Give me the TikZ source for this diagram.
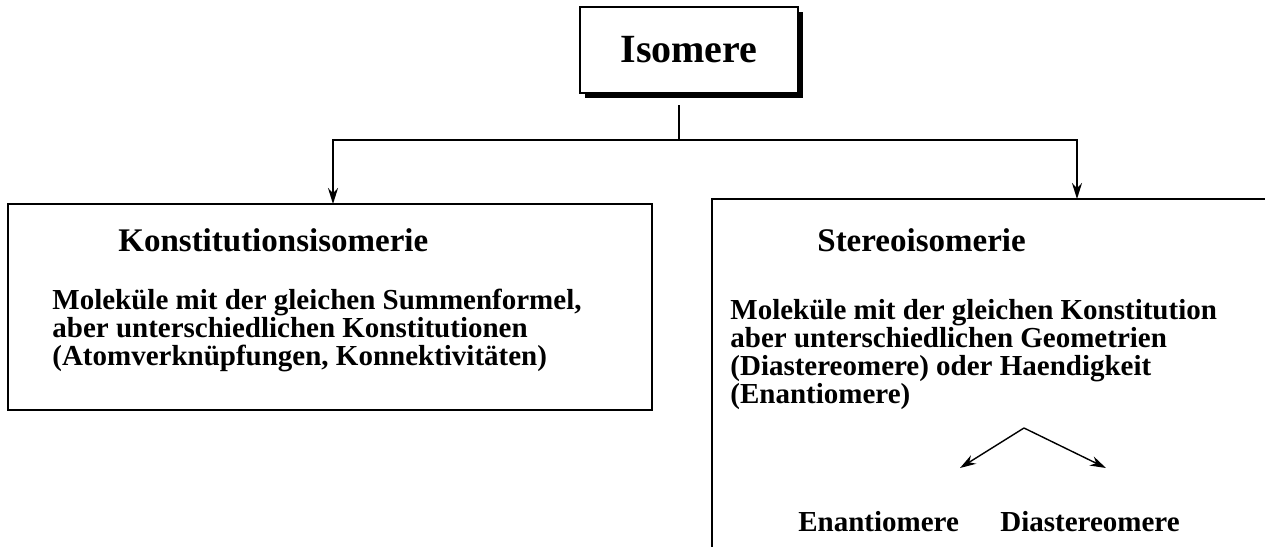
\documentclass[tikz,border=0pt]{standalone}
\usepackage{fontspec}
\setmainfont{Liberation Serif}
\usetikzlibrary{shadows,arrows.meta}

\tikzset{
  conn/.style={line width=0.9pt},
  arr/.style={conn,-{Stealth[length=8pt,width=5pt]}},
  title/.style={font=\bfseries\fontsize{16.5}{18}\selectfont,anchor=base west,inner sep=0pt},
  body/.style={font=\bfseries\fontsize{14.5}{14}\selectfont,anchor=north west,inner sep=0pt,align=left},
  label/.style={font=\bfseries\fontsize{14.5}{14}\selectfont,anchor=base west,inner sep=0pt},
}

\begin{document}
\begin{tikzpicture}[x=0.5pt,y=-0.5pt]
  \useasboundingbox (0,0) rectangle (1265,547);

  % Top box
  \node[draw,line width=1pt,fill=white,minimum width=109pt,minimum height=43pt,
        drop shadow={fill=black,opacity=1,shadow xshift=2.5pt,shadow yshift=-2.5pt},
        font=\bfseries\fontsize{20}{24}\selectfont] (iso) at (689,50) {Isomere};

  % Left box
  \node[draw,line width=0.9pt,minimum width=322pt,minimum height=103pt] (konst) at (330,307) {};
  \node[title] (konsttitle) at (118,251) {Konstitutionsisomerie};
  \node[body] (konsttext) at (52,289) {Moleküle mit der gleichen Summenformel,\\
    aber unterschiedlichen Konstitutionen\\
    (Atomverknüpfungen, Konnektivitäten)};

  % Right box (open)
  \coordinate (stereotop) at (1077,199);
  \draw[line width=0.9pt] (1265,199) -- (712,199) -- (712,547);
  \node[title] (stereotitle) at (817,251) {Stereoisomerie};
  \node[body] (stereotext) at (730,299) {Moleküle mit der gleichen Konstitution\\
    aber unterschiedlichen Geometrien\\
    (Diastereomere) oder Haendigkeit\\
    (Enantiomere)};
  \node[label] (enan) at (798,531) {Enantiomere};
  \node[label] (dia) at (1000,531) {Diastereomere};

  % Connectors
  \coordinate (stem) at (679,105);
  \coordinate (split) at (679,140);
  \coordinate (konsttop) at (333,204);
  \draw[conn] (stem) -- (split);
  \draw[arr] (split) -| (konsttop);
  \draw[arr] (split) -| (stereotop);

  % Sub arrows
  \coordinate (fork) at (1024,428);
  \coordinate (enantip) at (960,468);
  \coordinate (diatip) at (1106,468);
  \draw[arr,line width=0.7pt] (fork) -- (enantip);
  \draw[arr,line width=0.7pt] (fork) -- (diatip);
\end{tikzpicture}
\end{document}
